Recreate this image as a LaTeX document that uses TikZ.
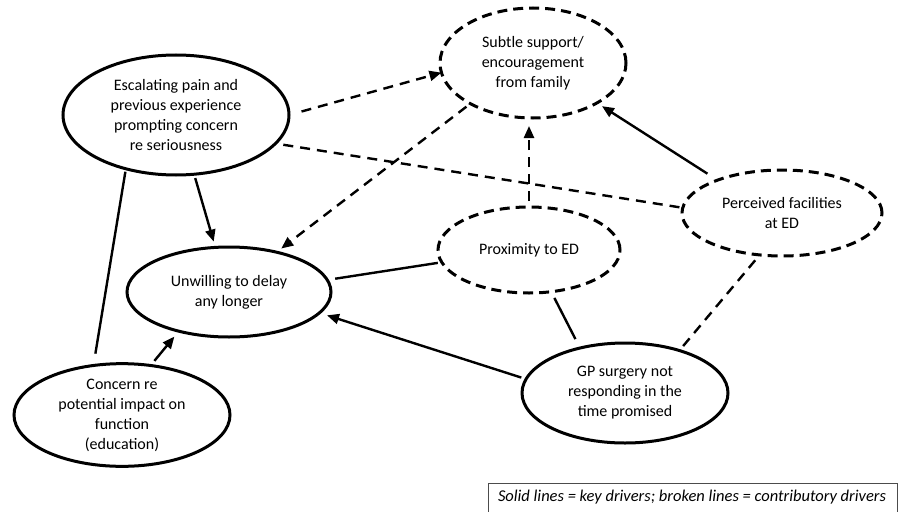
\documentclass[tikz,border=0pt]{standalone}
\usepackage{fontspec}
\setmainfont{Carlito}
\usetikzlibrary{shapes.geometric,arrows.meta}
\begin{document}
\begin{tikzpicture}[x=1pt,y=-1pt,
  every node/.style={font=\fontsize{16}{20}\selectfont, align=center},
  oval/.style={ellipse, draw, line width=3pt, inner sep=0pt, outer sep=0pt},
  dashoval/.style={oval, dash pattern=on 10pt off 6pt},
  keyline/.style={line width=2.4pt},
  contline/.style={line width=2.4pt, dash pattern=on 10pt off 7pt},
  tip/.style={-{Triangle[length=12pt,width=10pt]}}
]
\useasboundingbox (0,0) rectangle (901,511);

\node[oval, minimum width=226pt, minimum height=120pt] (esc) at (176,115)
  {Escalating pain and\\previous experience\\prompting concern\\re seriousness};
\node[dashoval, minimum width=186pt, minimum height=110pt] (sub) at (533,63)
  {Subtle support/\\encouragement\\from family};
\node[dashoval, minimum width=200pt, minimum height=86pt] (per) at (782,213)
  {Perceived facilities\\at ED};
\node[dashoval, minimum width=182pt, minimum height=86pt] (prox) at (529,250)
  {Proximity to ED};
\node[oval, minimum width=204pt, minimum height=90pt] (unw) at (229,292)
  {Unwilling to delay\\any longer};
\node[oval, minimum width=216pt, minimum height=94pt] (con) at (122,415)
  {Concern re\\potential impact on\\function\\(education)};
\node[oval, minimum width=206pt, minimum height=100pt] (gp) at (625,393)
  {GP surgery not\\responding in the\\time promised};

% contributory (dashed)
\draw[contline, tip, shorten <=13pt] (esc.0) -- (sub.186);
\draw[contline, tip, shorten <=5pt, shorten >=6pt] (sub.213) -- (unw.40);
\draw[contline, shorten <=8pt] (esc.-16) -- (per.177);
\draw[contline, tip, shorten <=6pt, shorten >=8pt] (prox.north) -- (prox.north |- sub.south);
\draw[contline, shorten <=7pt] (per.242) -- (gp.38);

% key drivers (solid)
\draw[keyline, tip, shorten <=12pt, shorten >=6pt] (per.153) -- (sub.-32);
\draw[keyline, tip, shorten <=4pt, shorten >=6pt] (esc.-73) -- (unw.107);
\draw[keyline, shorten <=3pt, shorten >=12pt] (esc.227) -- (con.120);
\draw[keyline, shorten <=8pt, shorten >=4pt] (unw.7) -- (prox.188);
\draw[keyline, tip, shorten <=5pt, shorten >=8pt] (gp.172) -- (unw.-13);
\draw[keyline, shorten <=7pt, shorten >=10pt] (prox.-62) -- (gp.135);
\draw[keyline, tip, shorten <=6pt, shorten >=7pt] (con.60) -- (unw.218);

% legend
\draw[draw=black!70, line width=1pt] (488,483) rectangle (897,530);
\node[font=\fontsize{16.5}{18}\selectfont\itshape] (leg) at (692,497)
  {Solid lines = key drivers; broken lines = contributory drivers};
\end{tikzpicture}
\end{document}
